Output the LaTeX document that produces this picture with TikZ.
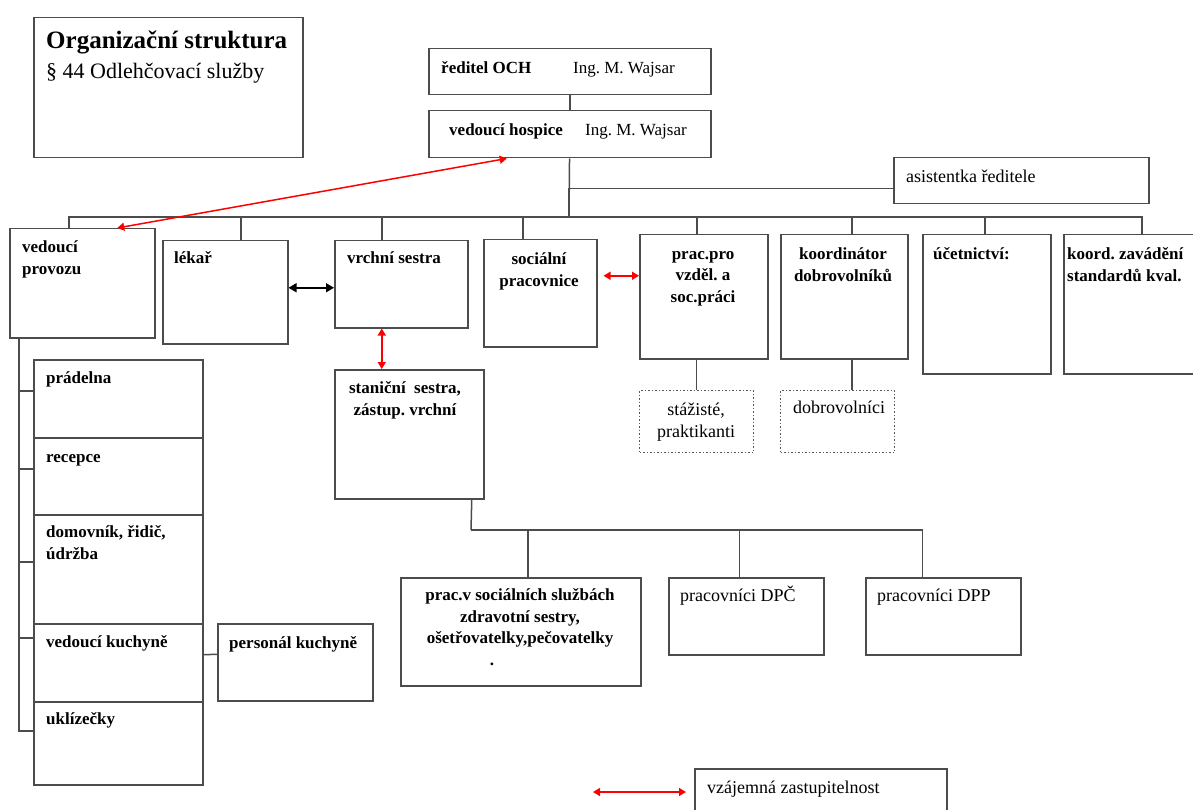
\documentclass[tikz,border=0pt]{standalone}
\usepackage{fontspec}
\setmainfont{Liberation Serif}
\frenchspacing
\usetikzlibrary{arrows.meta, positioning}

\begin{document}
\begin{tikzpicture}[x=1pt, y=-1pt,
    box/.style={draw=black!70, line width=1.5pt, rectangle, anchor=north west, inner sep=0pt},
    dotbox/.style={box, dotted, draw=black!65, line width=1.2pt},
    bold/.style={inner sep=0pt, font=\fontsize{17}{21.5}\selectfont\bfseries},
    plain/.style={inner sep=0pt, font=\fontsize{18}{22}\selectfont},
    link/.style={draw=black!70, line width=1.5pt},
    mutual/.style={red, line width=1.5pt, {Triangle[length=7pt,width=8pt]}-{Triangle[length=7pt,width=8pt]}},
    both/.style={black, line width=1.5pt, {Triangle[length=8pt,width=9pt]}-{Triangle[length=8pt,width=9pt]}}]

    \useasboundingbox (0,0) rectangle (1193,810);

    % Title
    \node (title) [box, minimum width=269pt, minimum height=140pt] at (33,17) {};
    \node (title t) [anchor=base west, inner sep=0pt, font=\fontsize{25}{28}\selectfont\bfseries] at (46,49) {Organizační struktura};
    \node (title s) [anchor=base west, inner sep=0pt, font=\fontsize{22}{26}\selectfont] at (46,79) {§ 44 Odlehčovací služby};

    % Head of the organisation
    \node (reditel) [box, minimum width=282pt, minimum height=46pt] at (428,48) {};
    \node (reditel t) [bold, anchor=base west] at (441,74) {ředitel OCH};
    \node (reditel n) [plain, anchor=base west, font=\fontsize{17}{21}\selectfont] at (573,74) {Ing. M. Wajsar};

    \node (hospic) [box, minimum width=282pt, minimum height=47pt] at (428,110) {};
    \node (hospic t) [bold, anchor=base west] at (449,136) {vedoucí hospice};
    \node (hospic n) [plain, anchor=base west, font=\fontsize{17}{21}\selectfont] at (585,136) {Ing. M. Wajsar};

    \node (asist) [box, minimum width=255pt, minimum height=46pt] at (893,157) {};
    \node (asist t) [plain, anchor=base west] at (906,183) {asistentka ředitele};

    % Departments below the head (multi-line texts sit on their last line)
    \node (provoz) [box, minimum width=145pt, minimum height=109pt] at (9,228) {};
    \node (provoz t) [bold, anchor=base west, align=left] at (22,274) {vedoucí\\provozu};

    \node (lekar) [box, minimum width=125pt, minimum height=103pt] at (162,240) {};
    \node (lekar t) [bold, anchor=base west] at (174,264) {lékař};

    \node (vrchni) [box, minimum width=133pt, minimum height=87pt] at (334,240) {};
    \node (vrchni t) [bold, anchor=base west] at (347,264) {vrchní sestra};

    \node (social) [box, minimum width=113pt, minimum height=107pt] at (483,239) {};
    \node (social t) [bold, anchor=base, align=center] at (539,286) {sociální\\pracovnice};

    \node (vzdel) [box, minimum width=128pt, minimum height=124pt] at (639,234) {};
    \node (vzdel t) [bold, anchor=base, align=center] at (703,302) {prac.pro\\vzděl. a\\soc.práci};

    \node (koord) [box, minimum width=127pt, minimum height=124pt] at (780,234) {};
    \node (koord t) [bold, anchor=base, align=center] at (843,281) {koordinátor\\dobrovolníků};

    \node (ucet) [box, minimum width=128pt, minimum height=139pt] at (922,234) {};
    \node (ucet t) [bold, anchor=base west] at (933,259) {účetnictví:};

    \node (kval) [box, minimum width=170pt, minimum height=139pt] at (1063,234) {};
    \node (kval t) [bold, anchor=base west, align=left] at (1067,281) {koord. zavádění\\standardů kval.};

    % Helpers below
    \node (staz) [dotbox, minimum width=114pt, minimum height=62pt] at (639,390) {};
    \node (staz t) [plain, anchor=base, align=center] at (696,437) {stážisté,\\praktikanti};

    \node (dobro) [dotbox, minimum width=114pt, minimum height=62pt] at (780,390) {};
    \node (dobro t) [plain, anchor=base west] at (793,413) {dobrovolníci};

    \node (stanic) [box, minimum width=149pt, minimum height=129pt] at (334,369) {};
    \node (stanic t) [bold, anchor=base, align=center] at (405,415) {staniční\enspace sestra,\\zástup. vrchní};

    % Column under vedoucí provozu
    \node (pradel) [box, minimum width=169pt, minimum height=78pt] at (33,359) {};
    \node (pradel t) [bold, anchor=base west] at (46,383) {prádelna};
    \node (recep) [box, minimum width=169pt, minimum height=77pt] at (33,437) {};
    \node (recep t) [bold, anchor=base west] at (46,462) {recepce};
    \node (domov) [box, minimum width=169pt, minimum height=109pt] at (33,514) {};
    \node (domov t) [bold, anchor=base west, align=left] at (46,559) {domovník, řidič,\\údržba};
    \node (kuchyn) [box, minimum width=169pt, minimum height=78pt] at (33,623) {};
    \node (kuchyn t) [bold, anchor=base west] at (46,647) {vedoucí kuchyně};
    \node (uklid) [box, minimum width=169pt, minimum height=83pt] at (33,701) {};
    \node (uklid t) [bold, anchor=base west] at (46,724) {uklízečky};

    \node (perso) [box, minimum width=155pt, minimum height=77pt] at (217,623) {};
    \node (perso t) [bold, anchor=base west] at (229,648) {personál kuchyně};

    % Staff under staniční sestra
    \node (socsl) [box, minimum width=240pt, minimum height=108pt] at (400,577) {};
    \node (socsl t) [bold, anchor=base, align=center] at (520,665) {prac.v sociálních službách\\zdravotní sestry,\\ošetřovatelky,pečovatelky\\.\hspace*{56pt}};

    \node (dpc) [box, minimum width=155pt, minimum height=77pt] at (668,577) {};
    \node (dpc t) [plain, anchor=base west] at (680,601) {pracovníci DPČ};

    \node (dpp) [box, minimum width=155pt, minimum height=77pt] at (865,577) {};
    \node (dpp t) [plain, anchor=base west] at (877,601) {pracovníci DPP};

    % Legend
    \node (legend) [box, minimum width=252pt, minimum height=70pt] at (694,768) {};
    \node (legend t) [plain, anchor=base west] at (707,793) {vzájemná zastupitelnost};
    \coordinate (legA) at (593,792);

    % Lines of the tree
    \coordinate (hub) at (569,217);
    \coordinate (fork) at (471,530);
    \coordinate (spine) at ([xshift=10pt]provoz.south west);

    \draw[link] (reditel) -- (hospic);
    \draw[link] (hospic) -- (hub);
    \draw[link] ([yshift=-8pt]asist.west) -| (hub);

    \draw[link] ([xshift=-13.5pt]provoz.north) |- (hub);
    \draw[link] ([xshift=15.5pt]lekar.north) |- (hub);
    \draw[link] ([xshift=-19.5pt]vrchni.north) |- (hub);
    \draw[link] ([xshift=-17.5pt]social.north) |- (hub);
    \draw[link] ([xshift=-7pt]vzdel.north) |- (hub);
    \draw[link] ([xshift=7.5pt]koord.north) |- (hub);
    \draw[link] ([xshift=-2pt]ucet.north) |- (hub);
    \draw[link] ([xshift=-7pt]kval.north) |- (hub);

    \draw[link] (staz.north) -- (staz.north |- vzdel.south);
    \draw[link] ([xshift=7.5pt]koord.south) -- ([xshift=7.5pt]koord.south |- dobro.north);

    \draw[link] ([yshift=8pt]pradel.west) -| (spine);
    \draw[link] ([yshift=7.5pt]recep.west) -| (spine);
    \draw[link] ([yshift=7.5pt]domov.west) -| (spine);
    \draw[link] ([yshift=25pt]kuchyn.west) -| (spine);
    \draw[link] ([yshift=12.5pt]uklid.west) -| (spine);
    \draw[link] ([yshift=8pt]kuchyn.east) -- ([yshift=8pt]perso.west);

    \draw[link] ([xshift=62.5pt]stanic.south) -- (fork);
    \draw[link] ([xshift=7pt]socsl.north) |- (fork);
    \draw[link] ([xshift=-7pt]dpc.north) |- (fork);
    \draw[link] ([xshift=-21pt]dpp.north) |- (fork);

    % Arrows
    \draw[mutual] ([xshift=35pt]provoz.north) -- ([xshift=-63pt]hospic.south);
    \draw[both] ([yshift=4.5pt]lekar.east) -- ([yshift=-3.5pt]vrchni.west);
    \draw[mutual] ([xshift=-19.5pt]vrchni.south) -- ([xshift=-27.5pt]stanic.north);
    \draw[mutual] ([xshift=6pt,yshift=17.5pt]social.east) -- ([yshift=21pt]vzdel.west);
    \draw[mutual] (legA) -- ([xshift=-8pt,yshift=-24pt]legend.north west);

\end{tikzpicture}
\end{document}
